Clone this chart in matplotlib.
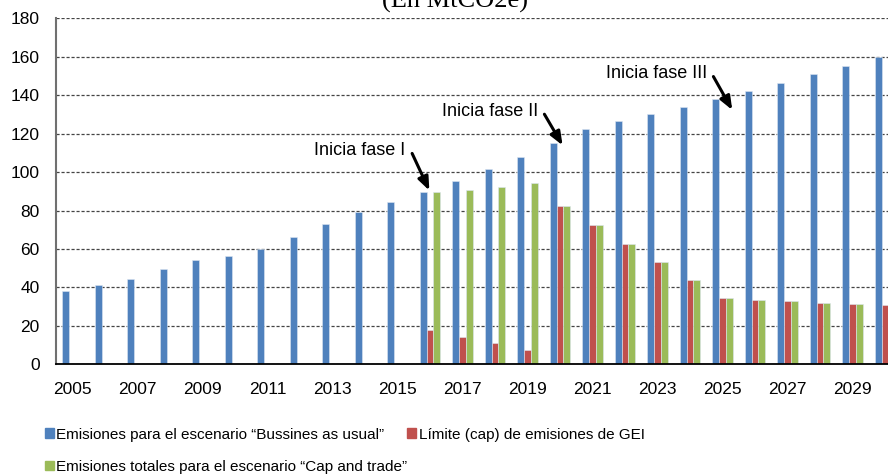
import numpy as np
import matplotlib
matplotlib.use("Agg")
import matplotlib.pyplot as plt
from matplotlib.patches import Patch

plt.rcParams['font.family'] = ['Liberation Sans', 'DejaVu Sans']

# Data (MtCO2e)
years = list(range(2005, 2031))
bau = [38.2, 41.0, 44.5, 49.7, 54.4, 56.5, 60.0, 66.2, 73.0, 79.0, 84.2,
       89.5, 95.3, 101.4, 108.1, 115.1, 122.5, 126.4, 130.1, 134.0, 137.9,
       142.0, 146.5, 150.8, 155.4, 160.0]
cap = [0, 0, 0, 0, 0, 0, 0, 0, 0, 0, 0,
       17.9, 14.4, 11.3, 7.6, 82.1, 72.5, 62.8, 53.2, 43.8, 34.4,
       33.5, 32.9, 32.0, 31.3, 30.6]
cat = [0, 0, 0, 0, 0, 0, 0, 0, 0, 0, 0,
       89.5, 90.8, 92.3, 94.1, 82.1, 72.5, 62.8, 53.2, 43.8, 34.4,
       33.5, 32.9, 32.0, 31.3, 30.6]

labels = ["Emisiones para el escenario \u201cBussines as usual\u201d",
          "L\u00edmite (cap) de emisiones de GEI",
          "Emisiones totales para el escenario \u201cCap and trade\u201d"]
colors = ["#4F81BD", "#C0504D", "#9BBB59"]

fig = plt.figure(figsize=(8.88, 4.76), dpi=100)
# axes extends past the right edge, as in the (cropped) reference
ax = fig.add_axes([56.25 / 888, 1 - 364.3 / 476, 845 / 888, (364.3 - 18.3) / 476])

x = np.arange(len(years))
w = 0.215
for vals, off, c in zip([bau, cap, cat], [-w, 0, w], colors):
    ax.bar(x + off, vals, width=w, color=c, edgecolor="#DCE6F2", linewidth=0.4, zorder=3)

ax.set_xlim(-0.5, len(years) - 0.5)
ax.set_ylim(0, 180)
ax.set_yticks(range(0, 181, 20))
ax.set_xticks(x[::2])
ax.set_xticklabels([str(y) for y in years[::2]])
ax.tick_params(axis="both", length=0, labelsize=12.5)
ax.tick_params(axis="y", pad=12)
ax.tick_params(axis="x", pad=13)
ax.grid(axis="y", color="#444444", linestyle=(0, (2.5, 1.5)), linewidth=0.9, zorder=0)
for s in ["top", "right"]:
    ax.spines[s].set_visible(False)
ax.spines["left"].set_color("#707070")
ax.spines["left"].set_linewidth(1.5)
ax.spines["bottom"].set_color("black")
ax.spines["bottom"].set_linewidth(1.3)
ax.spines["bottom"].set_zorder(4)

# phase annotations
notes = [("Inicia fase I", (10.98, 90.4), (10.45, 109.7)),
         ("Inicia fase II", (15.08, 113.9), (14.52, 130.1)),
         ("Inicia fase III", (20.30, 132.3), (19.72, 149.7))]
for txt, head, tail in notes:
    ax.annotate("", xy=head, xytext=tail,
                arrowprops=dict(arrowstyle="-|>,head_length=0.8,head_width=0.32",
                                color="black", lw=2.2, shrinkA=0, shrinkB=0), zorder=5)
    ax.text(tail[0] - 0.2, tail[1] + 1.5, txt, ha="right", va="center",
            fontsize=13, zorder=5)

# cropped title
fig.text(455 / 888, 1 - 8 / 476, "(En MtCO2e)", ha="center", va="baseline",
         fontsize=19, family="Liberation Serif")

handles = [Patch(color=colors[0]), Patch(color=colors[2]), Patch(color=colors[1])]
fig.legend(handles, [labels[0], labels[2], labels[1]], ncol=2, frameon=False,
           loc="upper left", bbox_to_anchor=(37 / 888, 1 - 420 / 476),
           fontsize=11, handlelength=0.6, handleheight=0.6, handletextpad=0.15,
           columnspacing=0.0, labelspacing=1.2, borderpad=0)

fig.savefig("out.png", dpi=100)
